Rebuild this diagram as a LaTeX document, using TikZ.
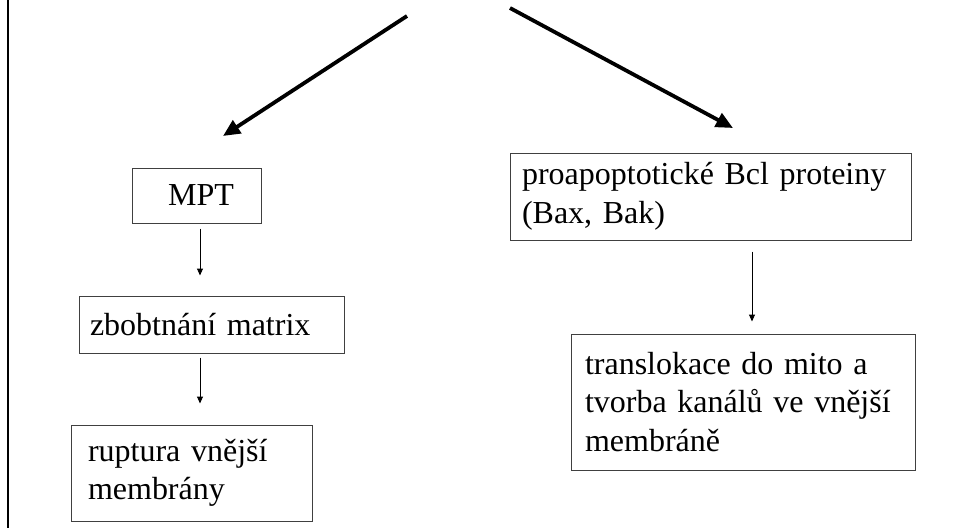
\documentclass[tikz,border=0pt]{standalone}
\usepackage{fontspec}
\setmainfont{Liberation Serif}
\usetikzlibrary{arrows.meta}
\begin{document}
\begin{tikzpicture}[x=1pt,y=-1pt,
  box/.style={draw=black!75,line width=1pt,inner ysep=0pt,align=left,
    font=\fontsize{32}{38.5}\selectfont},
  bigarrow/.style={line width=3.8pt,-{Triangle[length=17pt,width=15pt]}},
  smallarrow/.style={line width=1pt,-{Triangle[length=7pt,width=6pt]}}]
\useasboundingbox (0,0) rectangle (954,528);
% left border line
\coordinate (lt) at (8,0);
\coordinate (lb) at (8,528);
\draw[line width=2pt] (lt) -- (lb);
% boxes
\node[box,minimum width=129pt,minimum height=55pt,inner xsep=0pt] (mpt) at (196.5,195.5) {\hspace*{9pt}MPT};
\node[box,minimum height=57pt,inner xsep=11pt,text width=243pt] (zb) at (211.5,324.5) {zbobtnání matrix};
\node[box,minimum height=96pt,inner xsep=17pt,text width=207pt] (rup) at (191.5,473) {ruptura vnější\\membrány};
\node[box,minimum height=87pt,inner xsep=12pt,text width=377pt] (prob) at (710.5,196.5) {proapoptotické Bcl proteiny\\(Bax, Bak)};
\node[box,minimum height=136pt,inner xsep=14pt,text width=316pt] (tran) at (743,402) {translokace do mito a\\tvorba kanálů ve vnější\\membráně};
% big arrows
\coordinate (s1) at (407,16);
\coordinate (t1) at (223,136);
\coordinate (s2) at (510,8);
\coordinate (t2) at (733,128);
\draw[bigarrow] (s1) -- (t1);
\draw[bigarrow] (s2) -- (t2);
% small arrows
\draw[smallarrow,shorten <=5pt,shorten >=20pt] ([xshift=3.5pt]mpt.south) -- ([xshift=3.5pt]mpt.south |- zb.north);
\draw[smallarrow,shorten <=4pt,shorten >=21pt] ([xshift=-11.5pt]zb.south) -- ([xshift=-11.5pt]zb.south |- rup.north);
\draw[smallarrow,shorten <=11pt,shorten >=12pt] ([xshift=41.5pt]prob.south) -- ([xshift=41.5pt]prob.south |- tran.north);
\end{tikzpicture}
\end{document}
